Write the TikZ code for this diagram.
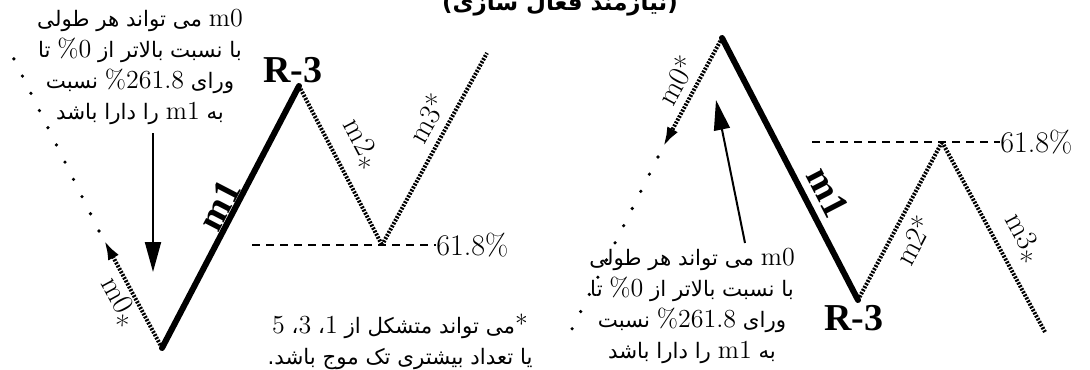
\documentclass[tikz,border=0pt]{standalone}
\usepackage{fontspec}
\usepackage{tikz}
\usetikzlibrary{arrows.meta}
\TeXXeTstate=1
\newfontfamily\arabicfont[Script=Arabic,Scale=0.82]{DejaVu Sans}
\newfontfamily\timesfont{Liberation Serif}
\newcommand{\fatext}[1]{{\arabicfont\beginR #1\endR}}
\newcommand{\ltrnum}[1]{\beginL{\rmfamily #1}\endL}

\begin{document}
\begin{tikzpicture}[x=0.5pt, y=-0.5pt,
    impulse/.style={line width=3pt, line cap=round},
    corrective/.style={line width=2pt, dash pattern=on 1pt off 0.7pt},
    level/.style={line width=0.9pt, dash pattern=on 4pt off 3pt},
    trail/.style={line width=1.8pt, line cap=round, dash pattern=on 0pt off 9.6pt},
    pointer/.style={line width=1pt, -{Triangle[length=15pt, width=8pt]}},
    wavelabel/.style={font=\fontsize{15}{17}\selectfont, inner sep=0pt},
    impulselabel/.style={font=\timesfont\bfseries\fontsize{19}{21}\selectfont, inner sep=0pt},
    note/.style={font=\fontsize{13}{15.5}\selectfont, align=center, inner sep=0pt}]
        \useasboundingbox (0,0) rectangle (1090,369);

        % Title (cut at the top)
        \node[font=\arabicfont\bfseries\fontsize{14}{17}\selectfont] (title) at (560,5) {\fatext{(نیازمند فعال سازی)}};

        % Define coordinates of the left wave
        \coordinate (lA) at (162,348);
        \coordinate (lB) at (299,86);
        \coordinate (lC) at (382,245);
        \coordinate (lD) at (487,53);
        \coordinate (lM0) at (104,240);
        \coordinate (lTrail) at (99,231);
        \coordinate (lTrailEnd) at (12,55);
        \coordinate (lLevel) at (252,245);

        % Draw the left wave
        \draw[trail] (lTrail) -- (lTrailEnd);
        \draw[corrective, -{Latex[length=10pt, width=6pt]}] (lA) -- (lM0);
        \draw[impulse] (lA) -- (lB);
        \draw[corrective] (lB) -- (lC);
        \draw[corrective] (lC) -- (lD);
        \node[wavelabel, anchor=west] (lFib) at (436,245) {61.8\%};
        \draw[level] (lLevel) -- (lFib.west);

        % Labels of the left wave
        \node[impulselabel] (lR3) at (293,70) {R-3};
        \node[impulselabel, rotate=62.6] (lM1) at (219,205) {m1};
        \node[wavelabel, rotate=-61.5] (lM0lab) at (115,304) {m0\raisebox{-1.1ex}{*}};
        \node[wavelabel, rotate=-62.4] (lM2lab) at (357,146) {m2\raisebox{-1.1ex}{*}};
        \node[wavelabel, rotate=61.3] (lM3lab) at (427,118) {m3*};

        % Note and pointer of the left wave
        \node[note] (lNote) at (140,67) {\fatext{\ltrnum{m0} می تواند هر طولی}\\
            \fatext{با نسبت بالاتر از \ltrnum{0}{\rmfamily\%} تا}\\
            \fatext{ورای \ltrnum{261.8}{\rmfamily\%} نسبت}\\
            \fatext{به \ltrnum{m1} را دارا باشد}};
        \coordinate (lPtrFrom) at (153,133);
        \coordinate (lPtrTo) at (153,272);
        \draw[pointer] (lPtrFrom) -- (lPtrTo);

        % Footnote under the left wave
        \node[note] (starNote) at (400,342) {\fatext{{\rmfamily*}می تواند متشکل از \ltrnum{1}، \ltrnum{3}، \ltrnum{5}}\\
            \fatext{یا تعداد بیشتری تک موج باشد.}};

        % Define coordinates of the right wave
        \coordinate (rA) at (722,38);
        \coordinate (rB) at (858,300);
        \coordinate (rC) at (942,142);
        \coordinate (rD) at (1045,332);
        \coordinate (rM0) at (663,147);
        \coordinate (rTrail) at (658,157);
        \coordinate (rTrailEnd) at (570,333);
        \coordinate (rLevel) at (812,142);

        % Draw the right wave
        \draw[trail] (rTrail) -- (rTrailEnd);
        \draw[corrective, -{Latex[length=10pt, width=6pt]}] (rA) -- (rM0);
        \draw[impulse] (rA) -- (rB);
        \draw[corrective] (rB) -- (rC);
        \draw[corrective] (rC) -- (rD);
        \node[wavelabel, anchor=west] (rFib) at (1000,142) {61.8\%};
        \draw[level] (rLevel) -- (rFib.west);

        % Labels of the right wave
        \node[impulselabel] (rR3) at (854,318) {R-3};
        \node[impulselabel, rotate=-62.6] (rM1) at (828,192) {m1};
        \node[wavelabel, rotate=61.6] (rM0lab) at (676,80) {m0*};
        \node[wavelabel, rotate=62] (rM2lab) at (913,240) {m2*};
        \node[wavelabel, rotate=-61.5] (rM3lab) at (1019,240) {m3\raisebox{-1.1ex}{*}};

        % Note and pointer of the right wave
        \node[note] (rNote) at (692,306) {\fatext{\ltrnum{m0} می تواند هر طولی}\\
            \fatext{با نسبت بالاتر از \ltrnum{0}{\rmfamily\%} تا}\\
            \fatext{ورای \ltrnum{261.8}{\rmfamily\%} نسبت}\\
            \fatext{به \ltrnum{m1} را دارا باشد}};
        \coordinate (rPtrFrom) at (745,243);
        \coordinate (rPtrTo) at (716,100);
        \draw[pointer] (rPtrFrom) -- (rPtrTo);
\end{tikzpicture}
\end{document}
